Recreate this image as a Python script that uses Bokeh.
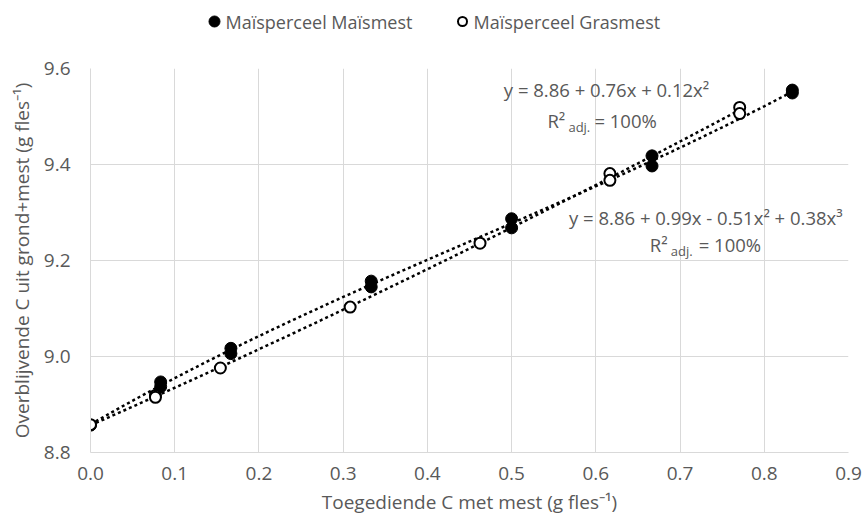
import numpy as np
from bokeh.plotting import figure
from bokeh.layouts import column
from bokeh.models import FixedTicker, NumeralTickFormatter, Label, Range1d
from bokeh.core.properties import value
from bokeh.embed import file_html
from bokeh.resources import INLINE

# ---- data ----
mais_x = [0.0, 0.0833, 0.0833, 0.1667, 0.1667, 0.3333, 0.3333, 0.5, 0.5,
          0.6667, 0.6667, 0.8333, 0.8333]
mais_y = [8.857, 8.947, 8.937, 9.017, 9.006, 9.157, 9.145, 9.287, 9.268,
          9.418, 9.397, 9.555, 9.549]
gras_x = [0.0, 0.0771, 0.0771, 0.1542, 0.3083, 0.4625, 0.6167, 0.6167,
          0.7708, 0.7708]
gras_y = [8.858, 8.919, 8.915, 8.976, 9.103, 9.236, 9.381, 9.367, 9.519, 9.506]

series_names = ["Maïsperceel Maïsmest", "Maïsperceel Grasmest"]
x_ticks = [0.0, 0.1, 0.2, 0.3, 0.4, 0.5, 0.6, 0.7, 0.8, 0.9]
y_ticks = [8.8, 9.0, 9.2, 9.4, 9.6]
eq_mais = "y = 8.86 + 0.99x  - 0.51x\u00b2 + 0.38x\u00b3"
eq_gras = "y = 8.86 + 0.76x + 0.12x\u00b2"
r2_text = ["R\u00b2", "adj.", "= 100%"]
x_title = "Toegediende C met mest (g fles\u207b\u00b9)"
y_title = "Overblijvende C uit grond+mest (g fles\u207b\u00b9)"

FONT = "Open Sans"
GREY = "#595959"
GRID = "#d9d9d9"
FS = "18.5px"

# ---------------- legend strip (frame aligned with the main plot's frame) ----
leg = figure(width=862, height=40, output_backend="svg", toolbar_location=None,
             x_axis_type=None, y_axis_type=None,
             x_range=Range1d(90, 848), y_range=Range1d(0, 40),
             min_border_left=90, min_border_right=14,
             min_border_top=0, min_border_bottom=0)
leg.grid.visible = False
leg.outline_line_color = None
leg.scatter([214], [19], marker="circle", size=11, fill_color="black",
            line_color="black")
leg.scatter([462], [19], marker="circle", size=9, fill_color="white",
            line_color="black", line_width=2)
leg.text([225, 473], [19, 19], text=series_names, text_font=value(FONT),
         text_font_size="18px", text_color=GREY, text_align="left",
         text_baseline="middle")

# ---------------- main plot ----------------
p = figure(width=862, height=482, output_backend="svg", toolbar_location=None,
           x_range=Range1d(0, 0.9), y_range=Range1d(8.8, 9.6),
           min_border_left=90, min_border_right=14, min_border_top=28,
           min_border_bottom=70)
p.outline_line_color = None
p.background_fill_color = "white"
p.border_fill_color = "white"

for ax in (p.xaxis[0], p.yaxis[0]):
    ax.axis_line_color = GRID
    ax.major_tick_line_color = None
    ax.minor_tick_line_color = None
    ax.major_tick_out = 0
    ax.major_tick_in = 0
    ax.major_label_text_font = FONT
    ax.major_label_text_font_size = "19px"
    ax.major_label_text_color = GREY
    ax.axis_label_text_font = FONT
    ax.axis_label_text_font_size = "19px"
    ax.axis_label_text_color = GREY
    ax.axis_label_text_font_style = "normal"
    ax.formatter = NumeralTickFormatter(format="0.0")

p.xaxis.ticker = FixedTicker(ticks=x_ticks)
p.yaxis.ticker = FixedTicker(ticks=y_ticks)
p.xaxis.major_label_standoff = 14
p.yaxis.major_label_standoff = 20
p.xaxis.axis_label = x_title
p.yaxis.axis_label = y_title
p.xaxis.axis_label_standoff = 6
p.yaxis.axis_label_standoff = 6
p.xgrid.grid_line_color = GRID
p.ygrid.grid_line_color = GRID
p.xgrid.grid_line_width = 1
p.ygrid.grid_line_width = 1

# trendlines: polynomial fits of the data (as the spreadsheet does)
cm = np.polyfit(mais_x, mais_y, 3)
cg = np.polyfit(gras_x, gras_y, 2)
xm = np.linspace(0, max(mais_x), 200)
xg = np.linspace(0, max(gras_x), 200)
p.line(xm, np.polyval(cm, xm), line_color="black", line_width=2.5,
       line_dash="3 3")
p.line(xg, np.polyval(cg, xg), line_color="black", line_width=2.5,
       line_dash="3 3")

p.scatter(mais_x, mais_y, marker="circle", size=12, fill_color="black",
          line_color="black", line_width=1)
p.scatter(gras_x, gras_y, marker="circle", size=11, fill_color="white",
          line_color="black", line_width=2)

def add_text(x, y, txt, size=FS, align="center", baseline="middle", xo=0, yo=0):
    p.add_layout(Label(x=x, y=y, text=txt, text_font=FONT, text_font_size=size,
                       text_color=GREY, text_align=align, text_baseline=baseline,
                       x_offset=xo, y_offset=yo))

# equations
add_text(0.6127, 9.556, eq_gras)
add_text(0.7335, 9.29, eq_mais)
# R2 adj (upper)
add_text(0.5425, 9.491, r2_text[0], align="left")
add_text(0.5425, 9.491, r2_text[1], size="13px", align="left", xo=21, yo=-6)
add_text(0.5425, 9.491, r2_text[2], align="left", xo=47)
# R2 adj (lower)
add_text(0.664, 9.233, r2_text[0], align="left")
add_text(0.664, 9.233, r2_text[1], size="13px", align="left", xo=21, yo=-6)
add_text(0.664, 9.233, r2_text[2], align="left", xo=49)

layout = column(leg, p, spacing=0)
open("out.html", "w").write(file_html(layout, INLINE))
